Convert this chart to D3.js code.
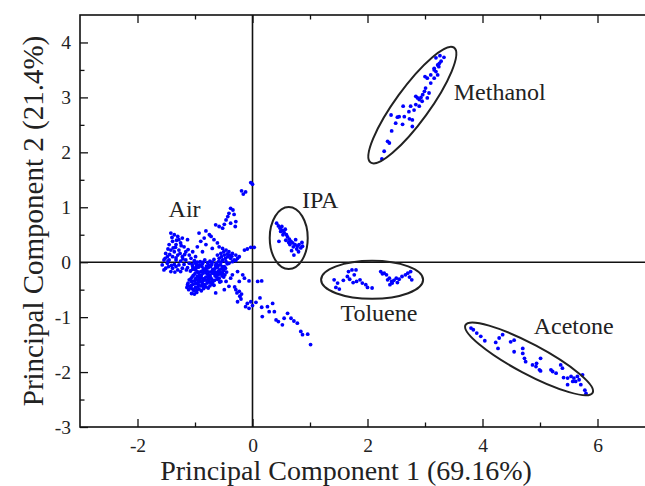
<!DOCTYPE html>
<html>
<head>
<meta charset="utf-8">
<script src="https://cdn.jsdelivr.net/npm/d3@7"></script>
<style>
  body { margin: 0; background: #fff; }
  text { font-family: "Liberation Serif", "Times New Roman", serif; fill: #222; }
</style>
</head>
<body>
<div id="chart"></div>
<script>
//chart size
const width = 645;
const height = 486;

//tick values
const xMajor = [-2, 0, 2, 4, 6];
const xMinor = [-1, 1, 3, 5];
const yMajor = [-3, -2, -1, 0, 1, 2, 3, 4];
const yMinor = [-2.5, -1.5, -0.5, 0.5, 1.5, 2.5, 3.5];

//scores [PC1, PC2]
const air = [
  //left group
  [-1.42,0.53],[-1.36,0.50],[-1.30,0.47],[-1.28,0.41],[-1.39,0.38],[-1.45,0.32],[-1.33,0.32],[-1.25,0.35],
  [-1.19,0.28],[-1.42,0.22],[-1.51,0.16],[-1.36,0.19],[-1.28,0.22],[-1.16,0.19],[-1.10,0.13],[-1.48,0.10],
  [-1.39,0.10],[-1.30,0.13],[-1.22,0.10],[-1.54,0.04],[-1.45,0.04],[-1.33,0.04],[-1.25,0.02],[-1.16,0.04],
  [-1.07,0.07],[-1.57,-0.05],[-1.48,-0.02],[-1.36,-0.04],[-1.28,-0.05],[-1.19,-0.04],[-1.10,-0.02],[-1.51,-0.11],
  [-1.39,-0.11],[-1.30,-0.14],[-1.22,-0.11],[-1.13,-0.10],[-1.04,-0.08],[-1.42,-0.17],[-1.25,-0.17],[-1.54,-0.14],
  [-1.01,0.01],[-0.99,0.10],[-1.04,0.19],[-1.13,0.41],[-1.22,0.44],[-1.34,0.27],[-1.47,0.24],[-1.21,0.06],
  [-1.40,0.45],[-1.32,0.40],[-1.24,0.30],[-1.38,0.26],[-1.44,0.14],[-1.33,0.08],[-1.41,-0.06],[-1.18,0.14],
  [-1.46,-0.08],[-1.33,-0.08],[-1.15,-0.14],[-1.26,0.16],[-1.52,0.07],[-1.12,0.23],[-1.35,-0.18],[-1.47,0.02],
  //dense blob
  [-1.01,0.03],[-0.91,0.01],[-0.83,0.04],[-0.74,0.02],[-0.67,0.05],[-0.59,0.01],[-0.52,0.03],
  [-1.05,-0.04],[-0.97,-0.06],[-0.87,-0.03],[-0.80,-0.07],[-0.71,-0.04],[-0.64,-0.06],[-0.56,-0.05],[-0.49,-0.08],[-0.44,-0.03],
  [-1.02,-0.11],[-0.94,-0.09],[-0.85,-0.12],[-0.77,-0.10],[-0.69,-0.13],[-0.61,-0.09],[-0.54,-0.12],[-0.47,-0.11],
  [-1.08,-0.16],[-0.99,-0.14],[-0.90,-0.17],[-0.83,-0.15],[-0.75,-0.18],[-0.67,-0.15],[-0.60,-0.17],[-0.51,-0.14],[-0.45,-0.18],
  [-1.00,-0.21],[-0.92,-0.23],[-0.86,-0.20],[-0.78,-0.22],[-0.70,-0.20],[-0.62,-0.24],[-0.55,-0.21],[-0.48,-0.23],
  [-1.05,-0.27],[-0.96,-0.26],[-0.89,-0.29],[-0.81,-0.27],[-0.73,-0.28],[-0.65,-0.25],[-0.58,-0.29],[-0.50,-0.27],
  [-1.10,-0.32],[-1.01,-0.34],[-0.93,-0.31],[-0.85,-0.33],[-0.76,-0.32],[-0.69,-0.35],[-0.61,-0.31],
  [-1.12,-0.38],[-1.03,-0.40],[-0.95,-0.37],[-0.87,-0.39],[-0.79,-0.38],[-0.70,-0.40],
  [-1.09,-0.44],[-0.99,-0.46],[-0.90,-0.43],[-0.81,-0.45],
  [-1.11,-0.50],[-1.02,-0.52],[-0.93,-0.49],[-1.06,-0.57],[-0.97,-0.55],
  [-0.96,0.00],[-0.78,-0.01],[-0.63,-0.02],[-0.88,-0.08],[-0.73,-0.08],[-0.58,-0.14],[-0.94,-0.19],[-0.81,-0.19],
  [-0.66,-0.21],[-0.53,-0.25],[-0.99,-0.30],[-0.84,-0.30],[-0.71,-0.31],[-0.91,-0.35],[-0.75,-0.36],[-1.06,-0.42],
  [-0.94,-0.41],[-0.85,-0.48],[-1.07,-0.47],[-0.64,-0.56],[-0.49,-0.50],
  [-0.99,-0.02],[-0.86,0.00],[-0.70,0.00],[-0.55,0.00],[-0.92,-0.05],[-0.76,-0.05],[-0.60,-0.06],[-0.52,-0.08],
  [-0.98,-0.10],[-0.81,-0.11],[-0.65,-0.11],[-0.50,-0.15],[-1.04,-0.13],[-0.87,-0.16],[-0.71,-0.17],[-0.56,-0.18],
  [-0.96,-0.17],[-0.79,-0.16],[-0.64,-0.19],[-1.03,-0.24],[-0.89,-0.24],[-0.74,-0.24],[-0.59,-0.22],[-0.52,-0.20],
  [-0.92,-0.27],[-0.77,-0.28],[-0.62,-0.28],[-1.07,-0.30],[-0.97,-0.32],[-0.80,-0.33],[-0.66,-0.33],[-1.06,-0.35],
  [-0.88,-0.36],[-0.72,-0.37],[-0.99,-0.39],[-0.83,-0.41],[-0.74,-0.43],[-1.13,-0.41],[-0.95,-0.45],[-0.86,-0.44],
  [-1.04,-0.49],[-0.97,-0.51],[-0.89,-0.52],[-1.14,-0.46],[-1.01,-0.58],[-0.77,-0.47],[-0.67,-0.42],[-0.57,-0.36],
  //middle group
  [-0.58,0.28],[-0.52,0.25],[-0.46,0.22],[-0.41,0.19],[-0.35,0.16],[-0.29,0.13],[-0.55,0.16],[-0.49,0.13],
  [-0.43,0.10],[-0.38,0.07],[-0.32,0.04],[-0.26,0.07],[-0.58,0.07],[-0.52,0.04],[-0.46,0.01],[-0.41,-0.02],
  [-0.61,0.13],[-0.14,0.22],[-0.09,0.24],[-0.03,0.27],[0.03,0.27],[-0.23,0.10],
  [-0.50,0.19],[-0.44,0.15],[-0.36,0.11],[-0.47,0.07],[-0.35,0.01],[-0.29,0.03],[-0.54,0.10],[-0.40,0.13],
  //upper branch
  [-0.96,0.28],[-0.90,0.38],[-0.84,0.44],[-0.81,0.57],[-0.75,0.50],[-0.72,0.47],[-0.64,0.68],[-0.58,0.65],
  [-0.52,0.62],[-0.49,0.69],[-0.46,0.77],[-0.43,0.83],[-0.41,0.89],[-0.38,0.98],[-0.34,0.95],[-0.32,0.87],
  [-0.29,0.74],[-0.30,0.65],[-0.38,0.71],[-0.67,0.41],[-0.81,0.32],[-0.87,0.19],[-0.70,0.25],[-0.61,0.35],[-0.93,0.53],
  [-0.19,1.30],[-0.16,1.24],[-0.12,1.28],[-0.03,1.45],[0.00,1.42],
  //lower branch
  [-0.35,-0.23],[-0.26,-0.17],[-0.17,-0.23],[-0.14,-0.29],[-0.06,-0.34],[-0.23,-0.35],[-0.29,-0.50],[-0.23,-0.53],
  [-0.19,-0.58],[-0.26,-0.72],[-0.20,-0.67],[-0.09,-0.75],[-0.03,-0.72],[0.00,-0.79],[0.06,-0.73],[0.09,-0.35],
  [0.16,-0.34],[0.13,-0.65],[0.16,-0.82],[0.26,-0.81],[0.35,-0.75],[0.38,-0.90],[0.41,-1.05],[0.45,-1.08],
  [0.52,-1.14],[0.55,-1.02],[0.61,-0.93],[0.67,-1.02],[0.72,-1.07],[0.78,-1.11],[0.84,-1.26],[0.87,-1.32],
  [0.96,-1.31],[1.01,-1.50],[0.29,-0.90],[-0.06,-0.84],[0.17,-0.99],[-0.12,-0.81],[-0.46,-0.35],[-0.41,-0.44],
  [-0.38,-0.29],[-0.55,-0.35],[-0.27,-0.56],[-0.22,-0.62],[-0.31,-0.45]
];

const ipa = [
  [0.42,0.71],[0.45,0.66],[0.48,0.62],[0.51,0.65],[0.52,0.58],[0.55,0.54],[0.57,0.60],[0.59,0.50],
  [0.61,0.46],[0.64,0.42],[0.67,0.38],[0.70,0.35],[0.74,0.32],[0.78,0.29],[0.81,0.32],[0.84,0.26],
  [0.87,0.29],[0.80,0.19],[0.72,0.13],[0.68,0.21],[0.46,0.38],[0.58,0.40],[0.75,0.41],[0.65,0.32],
  [0.63,0.36],[0.86,0.36],[0.49,0.56],[0.53,0.50],[0.71,0.28],[0.77,0.24]
];

const methanol = [
  [2.25,1.88],[2.29,2.02],[2.35,2.20],[2.38,2.17],[2.42,2.39],[2.41,2.68],[2.49,2.53],[2.52,2.64],
  [2.61,2.51],[2.62,2.84],[2.72,2.74],[2.75,2.84],[2.73,2.61],[2.78,2.59],[2.81,2.77],[2.84,2.87],
  [2.87,2.99],[2.90,2.96],[2.93,3.00],[2.95,2.93],[2.96,3.05],[2.99,3.11],[3.01,3.17],[3.04,2.99],
  [3.07,3.08],[3.00,3.38],[3.04,3.35],[3.10,3.41],[3.16,3.35],[3.19,3.47],[3.16,3.53],[3.22,3.59],
  [3.25,3.62],[3.28,3.66],[3.19,3.72],[3.33,3.73],[3.26,3.76],[3.22,3.41],[3.10,3.26],[2.90,2.84],
  [2.64,2.65],[2.55,2.65],[3.16,3.50],[3.24,3.56],[2.84,3.02],[2.78,2.47]
];

const toluene = [
  [1.42,-0.32],[1.48,-0.38],[1.45,-0.46],[1.51,-0.49],[1.58,-0.33],[1.65,-0.26],[1.67,-0.17],[1.73,-0.14],
  [1.69,-0.31],[1.75,-0.37],[1.81,-0.35],[1.87,-0.32],[1.91,-0.38],[1.97,-0.41],[2.00,-0.46],[2.08,-0.47],
  [1.80,-0.14],[1.77,-0.23],[2.23,-0.17],[2.29,-0.20],[2.33,-0.23],[2.38,-0.29],[2.42,-0.35],[2.39,-0.41],
  [2.46,-0.33],[2.50,-0.29],[2.55,-0.31],[2.60,-0.26],[2.66,-0.23],[2.70,-0.20],[2.75,-0.17],[2.77,-0.32],
  [2.73,-0.27],[2.52,-0.37],[2.43,-0.38],[2.26,-0.21],[2.35,-0.32]
];

const acetone = [
  [3.80,-1.20],[3.84,-1.23],[3.90,-1.29],[3.97,-1.35],[4.04,-1.43],[4.23,-1.46],[4.29,-1.38],[4.35,-1.32],
  [4.27,-1.57],[4.49,-1.45],[4.55,-1.42],[4.70,-1.57],[4.70,-1.66],[4.73,-1.75],[4.75,-1.81],[4.87,-1.87],
  [4.93,-1.90],[5.01,-1.75],[4.99,-1.96],[5.01,-1.98],[5.19,-1.96],[5.22,-1.99],[5.28,-2.02],[5.36,-1.87],
  [5.39,-1.93],[5.41,-2.10],[5.48,-2.11],[5.54,-2.08],[5.59,-2.11],[5.62,-2.17],[5.65,-2.08],[5.68,-2.14],
  [5.71,-2.23],[5.74,-2.05],[5.78,-2.33],[5.80,-2.39],[5.48,-2.23],[5.57,-2.17],[4.94,-1.84],[4.55,-1.63]
];

//group outlines: centre in PC units, radii in px, rotation in degrees
const ellipses = [
  { name: "IPA", cx: 0.63, cy: 0.44, rx: 19, ry: 31, angle: 0 },
  { name: "Methanol", cx: 2.78, cy: 2.86, rx: 71, ry: 17, angle: -54 },
  { name: "Toluene", cx: 2.08, cy: -0.32, rx: 51, ry: 19, angle: 0 },
  { name: "Acetone", cx: 4.81, cy: -1.76, rx: 72, ry: 15, angle: 28 }
];

//group labels, anchored at PC coordinates
const labels = [
  { text: "Air", x: -1.46, y: 0.83 },
  { text: "IPA", x: 0.86, y: 0.98 },
  { text: "Methanol", x: 3.50, y: 2.96 },
  { text: "Toluene", x: 1.53, y: -1.07 },
  { text: "Acetone", x: 4.89, y: -1.31 }
];

const svg = d3.select("#chart")
  .append("svg")
  .attr("width", width)
  .attr("height", height);

const x = d3.scaleLinear().domain([-3, 7]).range([80, 655]);
const y = d3.scaleLinear().domain([-3, 4.5]).range([427, 15]);

//plain hyphen minus like the original
const fmt = d => String(d);

//axes: ticks point inwards
function styleAxis(g) {
  g.select(".domain").remove();
  g.attr("font-family", null).attr("font-size", null);
  g.selectAll("line").attr("stroke", "#111").attr("stroke-width", 1.3);
  g.selectAll("text").attr("font-size", 19.5).attr("fill", "#222");
}

svg.append("g").attr("transform", `translate(0,${y(-3)})`)
  .call(d3.axisBottom(x).tickValues(xMajor).tickSize(-8).tickPadding(11).tickFormat(fmt))
  .call(styleAxis);
svg.append("g").attr("transform", `translate(0,${y(-3)})`)
  .call(d3.axisBottom(x).tickValues(xMinor).tickSize(-4.5).tickFormat(""))
  .call(styleAxis);
svg.append("g").attr("transform", `translate(0,${y(4.5)})`)
  .call(d3.axisTop(x).tickValues(xMajor).tickSize(-8).tickFormat(""))
  .call(styleAxis);
svg.append("g").attr("transform", `translate(0,${y(4.5)})`)
  .call(d3.axisTop(x).tickValues(xMinor).tickSize(-4.5).tickFormat(""))
  .call(styleAxis);
svg.append("g").attr("transform", `translate(${x(-3)},0)`)
  .call(d3.axisLeft(y).tickValues(yMajor).tickSize(-8).tickPadding(9).tickFormat(fmt))
  .call(styleAxis);
svg.append("g").attr("transform", `translate(${x(-3)},0)`)
  .call(d3.axisLeft(y).tickValues(yMinor).tickSize(-4.5).tickFormat(""))
  .call(styleAxis);

//frame
svg.append("rect")
  .attr("x", x(-3)).attr("y", y(4.5))
  .attr("width", x(7) - x(-3)).attr("height", y(-3) - y(4.5))
  .attr("fill", "none").attr("stroke", "#111").attr("stroke-width", 1.6);

//zero lines
svg.append("line")
  .attr("x1", x(-3)).attr("x2", x(7)).attr("y1", y(0)).attr("y2", y(0))
  .attr("stroke", "#111").attr("stroke-width", 1.6);
svg.append("line")
  .attr("x1", x(0)).attr("x2", x(0)).attr("y1", y(4.5)).attr("y2", y(-3))
  .attr("stroke", "#111").attr("stroke-width", 1.6);

//points
const allPoints = air.concat(ipa, methanol, toluene, acetone);
svg.append("g").selectAll("circle")
  .data(allPoints)
  .enter()
  .append("circle")
  .attr("cx", d => x(d[0]))
  .attr("cy", d => y(d[1]))
  .attr("r", 1.9)
  .attr("fill", "#0000ff");

//outlines
svg.append("g").selectAll("ellipse")
  .data(ellipses)
  .enter()
  .append("ellipse")
  .attr("transform", d => `translate(${x(d.cx)},${y(d.cy)}) rotate(${d.angle})`)
  .attr("rx", d => d.rx)
  .attr("ry", d => d.ry)
  .attr("fill", "none")
  .attr("stroke", "#222")
  .attr("stroke-width", 2);

//labels
svg.append("g").selectAll("text")
  .data(labels)
  .enter()
  .append("text")
  .attr("x", d => x(d.x))
  .attr("y", d => y(d.y))
  .attr("font-size", 24)
  .text(d => d.text);

//axis titles
svg.append("text")
  .attr("x", 346).attr("y", 480)
  .attr("text-anchor", "middle")
  .attr("font-size", 28)
  .text("Principal Component 1 (69.16%)");

svg.append("text")
  .attr("transform", "translate(43,221) rotate(-90)")
  .attr("text-anchor", "middle")
  .attr("font-size", 29)
  .text("Principal Component 2 (21.4%)");
</script>
</body>
</html>
